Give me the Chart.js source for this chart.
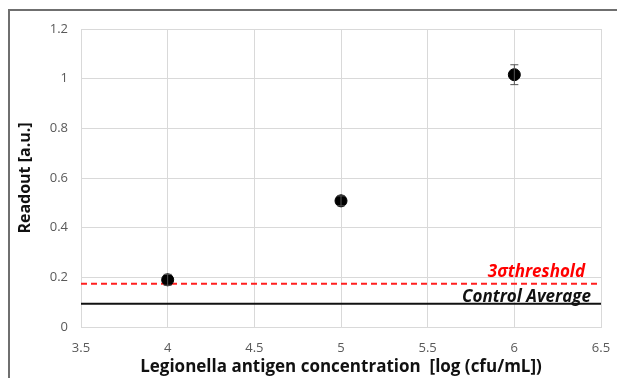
<!DOCTYPE html>
<html>
<head>
<meta charset="utf-8">
<script src="https://cdn.jsdelivr.net/npm/chart.js@4.4.1/dist/chart.umd.min.js"></script>
<style>
  html, body { margin: 0; padding: 0; background: #fff; overflow: hidden; }
  canvas { display: block; }
</style>
</head>
<body>
<canvas id="myChart" width="617" height="378"></canvas>
<script>
const concentration = [4, 5, 6];
const readout = [0.19, 0.508, 1.016];
const readoutError = [0.022, 0.02, 0.04];
const thresholdValue = 0.174;
const controlAverage = 0.094;
const xRange = [3.5, 6.5];
const yRange = [0, 1.2];

const FONT = "'Open Sans', 'Liberation Sans', sans-serif";

// outer frame (only left and top edges visible in the crop)
const framePlugin = {
    id: 'frame',
    beforeDraw(chart) {
        const ctx = chart.ctx;
        ctx.save();
        ctx.strokeStyle = '#6f6f6f';
        ctx.lineWidth = 2;
        ctx.beginPath();
        ctx.moveTo(9, chart.height);
        ctx.lineTo(9, 10);
        ctx.lineTo(chart.width, 10);
        ctx.stroke();
        ctx.restore();
    }
};

// error bars + line labels
const extrasPlugin = {
    id: 'extras',
    afterDatasetsDraw(chart) {
        const ctx = chart.ctx;
        const x = chart.scales.x, y = chart.scales.y;
        ctx.save();
        ctx.strokeStyle = '#555';
        ctx.lineWidth = 1;
        concentration.forEach((c, i) => {
            const px = x.getPixelForValue(c);
            const top = y.getPixelForValue(readout[i] + readoutError[i]);
            const bot = y.getPixelForValue(readout[i] - readoutError[i]);
            ctx.beginPath();
            ctx.moveTo(px, top); ctx.lineTo(px, bot);
            ctx.moveTo(px - 4, top); ctx.lineTo(px + 4, top);
            ctx.moveTo(px - 4, bot); ctx.lineTo(px + 4, bot);
            ctx.stroke();
        });
        ctx.textAlign = 'right';
        ctx.textBaseline = 'alphabetic';
        ctx.font = "italic bold 17px " + FONT;
        ctx.fillStyle = '#ff0000';
        ctx.fillText('3\u03C3threshold', x.right - 16, y.getPixelForValue(thresholdValue) - 7);
        ctx.fillStyle = '#111';
        ctx.fillText('Control Average', x.right - 10, y.getPixelForValue(controlAverage) - 2);
        ctx.restore();
    }
};

const fmt = v => String(Math.round(v * 10) / 10);

new Chart(document.getElementById('myChart').getContext('2d'), {
    type: 'scatter',
    data: {
        datasets: [{
            label: 'Readout',
            data: concentration.map((c, i) => ({ x: c, y: readout[i] })),
            backgroundColor: '#000',
            borderColor: '#000',
            pointRadius: 6,
            order: 0
        }, {
            label: '3 sigma threshold',
            type: 'line',
            data: xRange.map(v => ({ x: v, y: thresholdValue })),
            borderColor: '#ff2020',
            borderWidth: 2,
            borderDash: [6, 4],
            pointRadius: 0,
            order: 1
        }, {
            label: 'Control Average',
            type: 'line',
            data: xRange.map(v => ({ x: v, y: controlAverage })),
            borderColor: '#111',
            borderWidth: 2,
            pointRadius: 0,
            order: 1
        }]
    },
    options: {
        responsive: false,
        animation: false,
        layout: { padding: { left: 0, top: 29, right: 16, bottom: 0 } },
        plugins: { legend: { display: false }, tooltip: { enabled: false } },
        scales: {
            x: {
                type: 'linear',
                min: xRange[0], max: xRange[1],
                ticks: { stepSize: 0.5, color: '#595959', font: { family: FONT, size: 13 }, padding: 13, callback: fmt },
                grid: { color: '#d9d9d9', drawTicks: false },
                border: { color: '#d9d9d9' },
                title: { display: true, text: 'Legionella antigen concentration  [log (cfu/mL])', color: '#111',
                    font: { family: FONT, size: 17, weight: 'bold' }, padding: { top: 0, bottom: 1 } },
                afterFit(scale) { scale.height = 51; scale.paddingRight = 0; scale.paddingLeft = 0; }
            },
            y: {
                min: yRange[0], max: yRange[1],
                ticks: { stepSize: 0.2, color: '#595959', font: { family: FONT, size: 13 }, padding: 13, callback: fmt },
                grid: { color: '#d9d9d9', drawTicks: false },
                border: { color: '#d9d9d9' },
                title: { display: true, text: 'Readout [a.u.]', color: '#111',
                    font: { family: FONT, size: 16, weight: 'bold' }, padding: { top: 16, bottom: 0 } },
                afterFit(scale) { scale.width = 81; }
            }
        }
    },
    plugins: [framePlugin, extrasPlugin]
});
</script>
</body>
</html>
